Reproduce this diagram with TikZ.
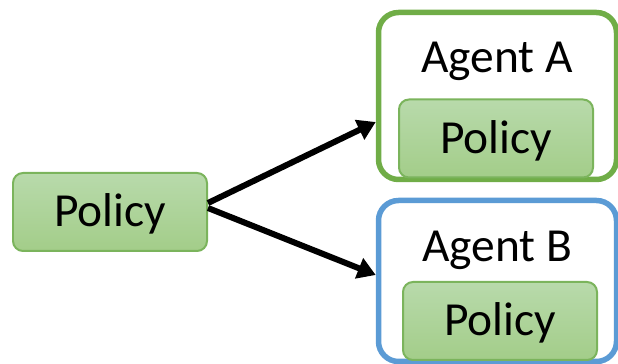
\documentclass[tikz,border=0pt]{standalone}
\usepackage{fontspec}
\setmainfont{Carlito}
\usetikzlibrary{arrows.meta}

\definecolor{poltop}{HTML}{B8DAAB}
\definecolor{polbot}{HTML}{A3CD89}
\definecolor{polline}{HTML}{7BB45C}
\definecolor{agAcol}{HTML}{70AD47}
\definecolor{agBcol}{HTML}{5B9BD5}

\begin{document}
\begin{tikzpicture}[thick,
  policy/.style={draw=polline, line width=0.04cm, rounded corners=0.2cm,
    top color=poltop, bottom color=polbot,
    minimum width=3.88cm, minimum height=1.56cm,
    text height=0.6cm, text depth=0pt, font=\fontsize{27}{32}\selectfont},
  agent/.style={draw=#1, line width=0.11cm, rounded corners=0.4cm,
    fill=white, minimum width=4.76cm},
  title/.style={anchor=base, font=\fontsize{27}{32}\selectfont},
  flow/.style={line width=0.12cm, -{Triangle[length=0.36cm,width=0.42cm]}}]

  \useasboundingbox (0,0) rectangle (12.36,7.28);

  %% shared policy (left)
  \node[policy] (pol) at (2.2,3.04) {Policy};

  %% agents with their own copy
  \node[agent=agAcol, minimum height=3.34cm] (agA) at (9.95,5.36) {};
  \node[agent=agBcol, minimum height=3.22cm] (agB) at (9.95,1.66) {};

  \node[policy] (polA) at (9.92,4.51) {Policy};
  \node[policy] (polB) at (10.0,0.86) {Policy};

  \node[title] (nameA) at (9.94,5.82) {Agent A};
  \node[title] (nameB) at (9.94,2.04) {Agent B};

  % copy arrows
  \draw[flow] ([yshift=0.18cm]pol.east) -- ([yshift=-0.52cm]agA.west);
  \draw[flow] ([yshift=0.08cm]pol.east) -- ([yshift=0.12cm]agB.west);

\end{tikzpicture}
\end{document}
